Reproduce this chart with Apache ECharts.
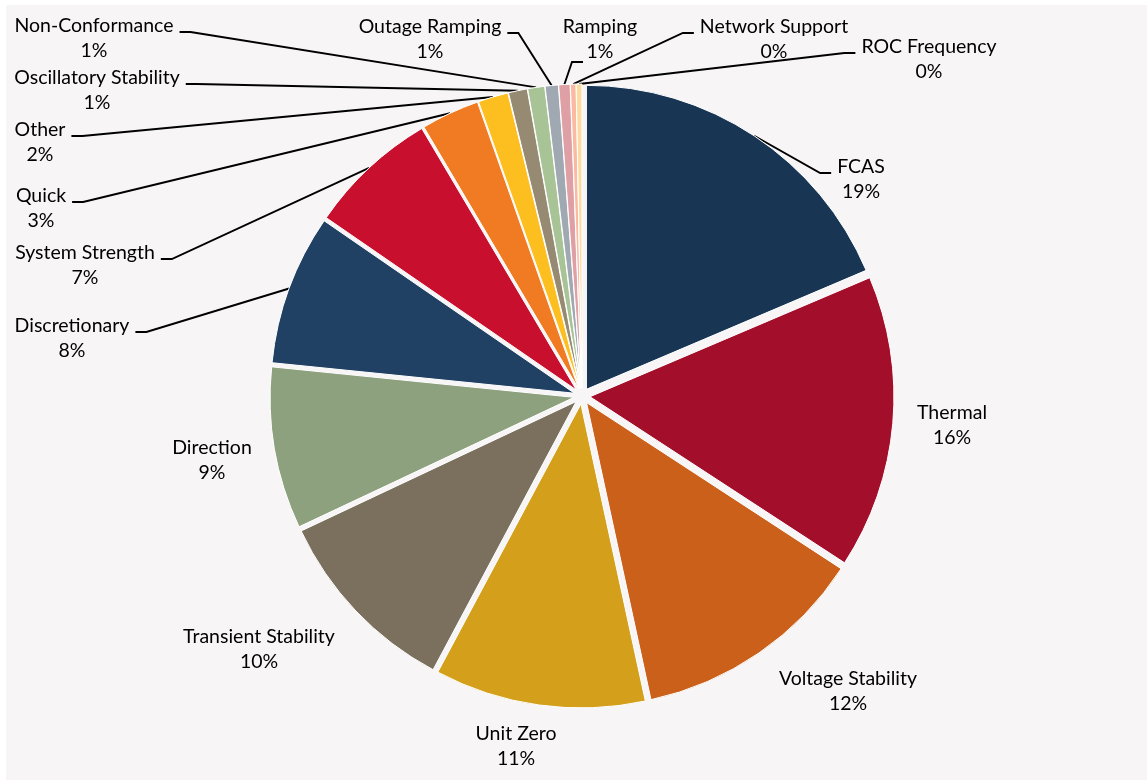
<!DOCTYPE html>
<html><head><meta charset="utf-8">
<script src="https://cdn.jsdelivr.net/npm/echarts@6/dist/echarts.min.js"></script>
<style>
html,body{margin:0;padding:0;background:#fff;}
#bg{position:absolute;left:6px;top:5px;width:1141px;height:775px;background:#f7f5f5;}
#chart{position:absolute;left:0;top:0;width:1147px;height:780px;}
</style></head><body>
<div id="bg"></div><div id="chart"></div>
<script>
const categories = ['FCAS','Thermal','Voltage Stability','Unit Zero','Transient Stability','Direction','Discretionary','System Strength','Quick','Other','Oscillatory Stability','Non-Conformance','Outage Ramping','Ramping','Network Support','ROC Frequency'];
const shares = [18.6,15.6,12.4,11.2,10.2,8.6,8.0,6.9,3.1,1.6,1.0,0.9,0.7,0.6,0.3,0.3];
const colors = ['#183654','#a30e2b','#cb601b','#d4a01c','#7b705e','#8da17e','#204064','#c8102e','#f07b22','#fdbe20','#968a72','#a8c496','#a0a8b2','#dea0a5','#fab9a0','#fddaa0'];

// label block centres and which side the leader line attaches to (no side = no leader line)
const labelLayoutTable = [
  {pos:[861,179], side:'left'},
  {pos:[952,425]},
  {pos:[848,691]},
  {pos:[516,746]},
  {pos:[259,649]},
  {pos:[212,460]},
  {pos:[72,338], side:'right'},
  {pos:[85,265], side:'right'},
  {pos:[41,208], side:'right'},
  {pos:[40,142], side:'right'},
  {pos:[97,90], side:'right'},
  {pos:[94,38], side:'right'},
  {pos:[430,39], side:'right'},
  {pos:[600,39], side:'left', attach:[-17,23]},
  {pos:[774,39], side:'left'},
  {pos:[929,59], side:'left'}
];

const chart = echarts.init(document.getElementById('chart'));
const CENTER = [582,396], R = 304, OFFSET = 8;

chart.setOption({
  animation:false,
  backgroundColor:'transparent',
  series:[
    {
      type:'pie', center:CENTER, radius:R, startAngle:90, clockwise:true,
      selectedMode:'multiple', selectedOffset:OFFSET, silent:true,
      label:{show:false}, labelLine:{show:false},
      itemStyle:{borderColor:'#ffffff', borderWidth:1},
      emphasis:{disabled:true},
      data: categories.map((c,i)=>({name:c, value:shares[i], selected:true,
        itemStyle:{color:colors[i]}, select:{itemStyle:{color:colors[i], borderColor:'#ffffff', borderWidth:1}}}))
    },
    {
      type:'pie', center:CENTER, radius:R+OFFSET, startAngle:90, clockwise:true,
      silent:true, avoidLabelOverlap:false,
      itemStyle:{color:'rgba(0,0,0,0)', borderWidth:0},
      emphasis:{disabled:true},
      label:{show:true, position:'outside',
        formatter: p => p.name + '\n' + Math.round(p.percent) + '%',
        fontFamily:'Lato', fontSize:19.5, lineHeight:25.5, color:'#000', align:'center'},
      labelLine:{show:true, length:5, length2:5, lineStyle:{color:'#000', width:1.9}},
      labelLayout: function(p){
        const L = labelLayoutTable[p.dataIndex];
        const w = p.labelRect.width;
        const res = {x:L.pos[0], y:L.pos[1], align:'center', verticalAlign:'middle'};
        if (L.side && p.labelLinePoints) {
          const s = L.side === 'right' ? 1 : -1;
          let ax, ay;
          if (L.attach) { ax = L.pos[0] + L.attach[0]; ay = L.pos[1] + L.attach[1]; }
          else { ax = L.pos[0] + s*(w/2 + 6); ay = L.pos[1] - 6; }
          const p0 = p.labelLinePoints[0];
          res.labelLinePoints = [[p0[0],p0[1]],[ax + s*11, ay],[ax, ay]];
        }
        return res;
      },
      data: categories.map((c,i)=>({name:c, value:shares[i], labelLine:{show:!!labelLayoutTable[i].side}}))
    }
  ]
});
</script>
</body></html>
